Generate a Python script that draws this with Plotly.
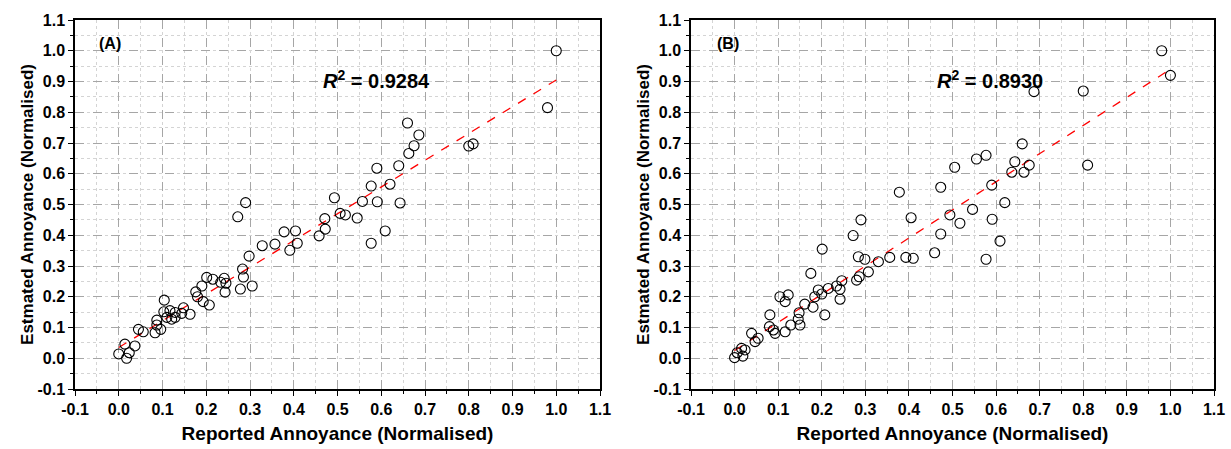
import plotly.graph_objects as go

# ---------------- data ----------------
reported_A = [1.0, 0.98, 0.80, 0.81, 0.66, 0.686, 0.675, 0.663, 0.64, 0.643,
              0.59, 0.577, 0.62, 0.493, 0.557, 0.591, 0.29, 0.272, 0.506, 0.518,
              0.545, 0.471, 0.472, 0.458, 0.609, 0.577, 0.378, 0.404, 0.408, 0.391,
              0.357, 0.328, 0.298, 0.283, 0.285, 0.305, 0.278, 0.201, 0.215, 0.241,
              0.233, 0.245, 0.243, 0.19, 0.193, 0.207, 0.176, 0.18, 0.104, 0.103,
              0.117, 0.129, 0.148, 0.163, 0.144, 0.129, 0.121, 0.11, 0.087, 0.087,
              0.096, 0.083, 0.045, 0.056, 0.014, 0.037, 0.0, 0.024, 0.018]
estimated_A = [1.0, 0.815, 0.69, 0.697, 0.765, 0.726, 0.691, 0.666, 0.626, 0.505,
               0.618, 0.56, 0.566, 0.522, 0.51, 0.509, 0.506, 0.46, 0.471, 0.466,
               0.456, 0.454, 0.42, 0.398, 0.414, 0.374, 0.411, 0.414, 0.374, 0.351,
               0.371, 0.366, 0.332, 0.29, 0.264, 0.235, 0.225, 0.263, 0.257, 0.26,
               0.247, 0.244, 0.215, 0.235, 0.184, 0.173, 0.216, 0.20, 0.189, 0.151,
               0.155, 0.149, 0.164, 0.143, 0.146, 0.133, 0.127, 0.133, 0.124, 0.108,
               0.094, 0.083, 0.094, 0.086, 0.046, 0.04, 0.014, 0.018, 0.0]

reported_B = [0.98, 1.0, 0.687, 0.80, 0.66, 0.643, 0.676, 0.636, 0.664, 0.81,
              0.62, 0.505, 0.555, 0.577, 0.59, 0.473, 0.378, 0.546, 0.494, 0.517,
              0.591, 0.405, 0.29, 0.272, 0.473, 0.609, 0.201, 0.459, 0.577, 0.356,
              0.393, 0.41, 0.284, 0.299, 0.33, 0.307, 0.286, 0.28, 0.175, 0.246,
              0.242, 0.215, 0.192, 0.2, 0.184, 0.242, 0.161, 0.18, 0.104, 0.123,
              0.116, 0.207, 0.148, 0.146, 0.15, 0.129, 0.116, 0.081, 0.08, 0.089,
              0.093, 0.039, 0.054, 0.047, 0.016, 0.024, 0.0, 0.019, 0.006, 0.234]
estimated_B = [1.0, 0.92, 0.867, 0.869, 0.697, 0.639, 0.628, 0.605, 0.605, 0.628,
               0.506, 0.621, 0.648, 0.66, 0.563, 0.556, 0.54, 0.484, 0.466, 0.439,
               0.452, 0.457, 0.45, 0.399, 0.404, 0.381, 0.355, 0.343, 0.322, 0.328,
               0.328, 0.325, 0.33, 0.322, 0.314, 0.281, 0.265, 0.254, 0.276, 0.252,
               0.224, 0.227, 0.222, 0.209, 0.2, 0.192, 0.176, 0.166, 0.2, 0.206,
               0.184, 0.141, 0.148, 0.127, 0.108, 0.108, 0.086, 0.141, 0.103, 0.092,
               0.081, 0.081, 0.065, 0.054, 0.032, 0.027, 0.002, 0.007, 0.018, 0.235]

fit_x = [0.0, 1.0]
fit_A = [0.035, 0.905]
fit_B = [0.025, 0.94]

r2_A = "0.9284"
r2_B = "0.8930"

tick_vals = [-0.1, 0.0, 0.1, 0.2, 0.3, 0.4, 0.5, 0.6, 0.7, 0.8, 0.9, 1.0, 1.1]
tick_text = ["-0.1", "0.0", "0.1", "0.2", "0.3", "0.4", "0.5", "0.6", "0.7",
             "0.8", "0.9", "1.0", "1.1"]

# ---------------- figure ----------------
FONT = "Arial, Liberation Sans, sans-serif"
fig = go.Figure()

for (xs, ys, fy, xa, ya) in [(reported_A, estimated_A, fit_A, "x", "y"),
                             (reported_B, estimated_B, fit_B, "x2", "y2")]:
    fig.add_trace(go.Scatter(x=fit_x, y=fy, mode="lines", xaxis=xa, yaxis=ya,
                             line=dict(color="#ff0000", width=1.3, dash="dash"),
                             showlegend=False, hoverinfo="skip"))
    fig.add_trace(go.Scatter(x=xs, y=ys, mode="markers", xaxis=xa, yaxis=ya,
                             marker=dict(symbol="circle-open", size=10, color="black",
                                         line=dict(width=1.1, color="black")),
                             showlegend=False))

y_bot = (449 - 389) / 449
y_top = (449 - 20) / 449
dom_A = [75 / 1231, 600 / 1231]
dom_B = [691 / 1231, 1214 / 1231]

def common():
    return dict(range=[-0.1, 1.1], tickvals=tick_vals, ticktext=tick_text,
                ticks="outside", ticklen=5, tickwidth=1.2, tickcolor="black",
                showline=True, linecolor="black", linewidth=1.5, mirror=True,
                showgrid=True, gridcolor="#a6a6a6", griddash="dash", gridwidth=1,
                zeroline=False, automargin=False,
                minor=dict(dtick=0.05, tick0=0, showgrid=True, gridcolor="#d4d4d4",
                           griddash="dot", ticks="outside", ticklen=3,
                           tickcolor="black", tickwidth=1),
                tickfont=dict(family=FONT, size=16, color="black", weight="bold"))

def xaxis(domain, anchor):
    d = common()
    d.update(domain=domain, anchor=anchor,
             title=dict(text="Reported Annoyance (Normalised)", standoff=10,
                        font=dict(family=FONT, size=19, color="black", weight="bold")))
    return d

def yaxis(anchor):
    d = common()
    d.update(domain=[y_bot, y_top], anchor=anchor,
             title=dict(text="Estmated Annoyance (Normalised)", standoff=0,
                        font=dict(family=FONT, size=17, color="black", weight="bold")))
    return d

fig.update_layout(
    width=1231, height=449,
    margin=dict(l=0, r=0, t=0, b=0, autoexpand=False),
    paper_bgcolor="white", plot_bgcolor="white",
    xaxis=xaxis(dom_A, "y"), yaxis=yaxis("x"),
    xaxis2=xaxis(dom_B, "y2"), yaxis2=yaxis("x2"),
    annotations=[
        dict(x=-0.02, y=1.025, xref="x", yref="y", text="(A)", showarrow=False,
             font=dict(family=FONT, size=16, color="black", weight="bold")),
        dict(x=-0.015, y=1.025, xref="x2", yref="y2", text="(B)", showarrow=False,
             font=dict(family=FONT, size=16, color="black", weight="bold")),
        dict(x=0.588, y=0.905, xref="x", yref="y",
             text="<i>R</i><sup>2</sup> = " + r2_A, showarrow=False,
             font=dict(family=FONT, size=20, color="black", weight="bold")),
        dict(x=0.586, y=0.905, xref="x2", yref="y2",
             text="<i>R</i><sup>2</sup> = " + r2_B, showarrow=False,
             font=dict(family=FONT, size=20, color="black", weight="bold")),
    ],
)

fig.write_html("out.html", config={"displayModeBar": False},
               post_script="document.body.style.margin='0';document.body.style.padding='0';")
